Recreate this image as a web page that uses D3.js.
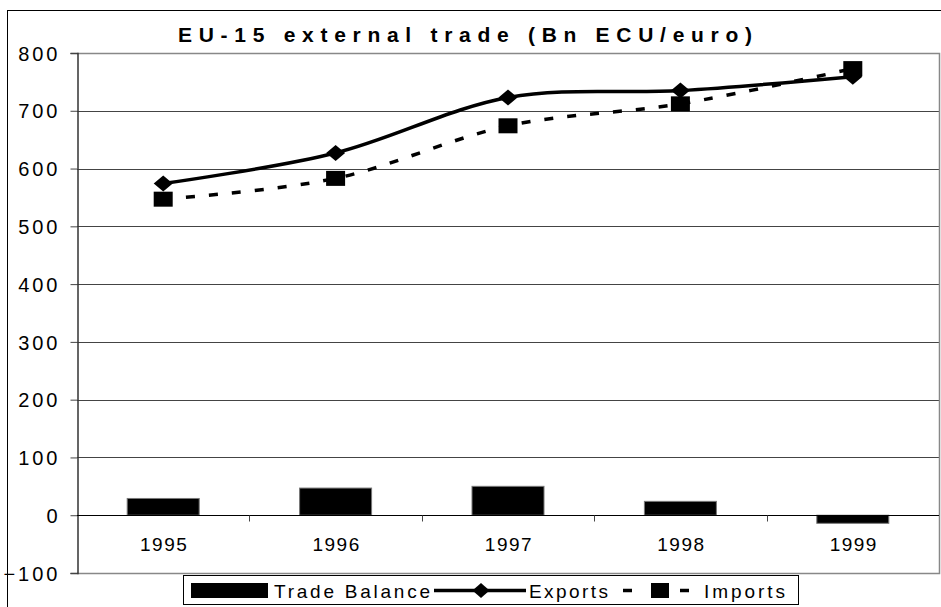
<!DOCTYPE html>
<html>
<head>
<meta charset="utf-8">
<script src="https://cdn.jsdelivr.net/npm/d3@7"></script>
<style>
  body { margin: 0; background: #fff; }
  svg text { font-family: "Liberation Sans", Arial, sans-serif; fill: #000; }
</style>
</head>
<body>
<svg id="chart" width="941" height="607"></svg>
<script>
// data
const years = ["1995", "1996", "1997", "1998", "1999"];
const tradeBalance = [29, 47, 50, 24, -14];
const exportsBn = [574, 627, 723, 735, 759];
const importsBn = [547, 583, 674, 712, 773];
const yTicks = [-100, 0, 100, 200, 300, 400, 500, 600, 700, 800];

const svg = d3.select("#chart");

// outer chart frame (runs off the right/bottom edge)
svg.append("rect")
    .attr("x", 7.5).attr("y", 10.5)
    .attr("width", 960).attr("height", 620)
    .attr("fill", "none").attr("stroke", "#000");

const plot = {left: 77, right: 939, top: 53, bottom: 573};

const x = d3.scaleBand().domain(years).range([plot.left, plot.right]);
const y = d3.scaleLinear().domain([-100, 800]).range([plot.bottom, plot.top]);

// gridlines
svg.append("g").selectAll("line")
  .data(yTicks.filter(d => d !== -100 && d !== 0 && d !== 800))
  .join("line")
    .attr("x1", plot.left).attr("x2", plot.right)
    .attr("y1", d => Math.round(y(d)) + 0.5).attr("y2", d => Math.round(y(d)) + 0.5)
    .attr("stroke", "#444");

// plot area border (top/right/bottom grey)
svg.append("path")
    .attr("d", `M${plot.left},${plot.top + 0.5}H${plot.right + 0.5}V${plot.bottom + 0.5}H${plot.left}`)
    .attr("fill", "none").attr("stroke", "#888").attr("stroke-width", 1.5);

// y axis
const yAxis = svg.append("g")
    .attr("transform", `translate(${plot.left + 0.5},0)`)
    .call(d3.axisLeft(y).tickValues(yTicks).tickSize(7).tickPadding(10));
yAxis.select(".domain").attr("stroke", "#333").attr("stroke-width", 1.5);
yAxis.selectAll(".tick line").attr("stroke", "#444");
yAxis.selectAll(".tick text")
    .style("font-family", "Liberation Sans, Arial, sans-serif")
    .style("font-size", "20px").style("letter-spacing", "3px")
    .attr("dy", "0.36em");

// bars
const barW = 72;
svg.append("g").selectAll("rect")
  .data(tradeBalance)
  .join("rect")
    .attr("x", (d, i) => x(years[i]) + x.bandwidth() / 2 - barW / 2)
    .attr("y", d => y(Math.max(0, d)))
    .attr("width", barW)
    .attr("height", d => Math.abs(y(d) - y(0)))
    .attr("fill", "#000").attr("stroke", "#777").attr("stroke-width", 1);

// zero line with ticks at band edges
const zeroY = Math.round(y(0)) + 0.5;
svg.append("line")
    .attr("x1", plot.left).attr("x2", plot.right)
    .attr("y1", zeroY).attr("y2", zeroY)
    .attr("stroke", "#000");
svg.append("g").selectAll("line")
  .data(years.slice(1))
  .join("line")
    .attr("x1", d => Math.round(x(d)) + 0.5).attr("x2", d => Math.round(x(d)) + 0.5)
    .attr("y1", zeroY).attr("y2", zeroY + 6)
    .attr("stroke", "#444");
svg.append("g").selectAll("text")
  .data(years)
  .join("text")
    .attr("x", d => x(d) + x.bandwidth() / 2 + 1)
    .attr("y", 551)
    .attr("text-anchor", "middle")
    .style("font-size", "19px").style("letter-spacing", "1.5px")
    .text(d => d);

// lines
const cx = i => x(years[i]) + x.bandwidth() / 2;
const line = d3.line()
    .x((d, i) => cx(i))
    .y(d => y(d))
    .curve(d3.curveCardinal.tension(0));

svg.append("path")
    .attr("d", line(exportsBn))
    .attr("fill", "none").attr("stroke", "#000").attr("stroke-width", 3.5);
svg.append("path")
    .attr("d", line(importsBn))
    .attr("fill", "none").attr("stroke", "#000").attr("stroke-width", 3.5)
    .attr("stroke-dasharray", "9,14");

// markers
const diamond = (w, h) => `M0,${-h / 2}L${w / 2},0L0,${h / 2}L${-w / 2},0Z`;
svg.append("g").selectAll("path")
  .data(exportsBn)
  .join("path")
    .attr("transform", (d, i) => `translate(${cx(i)},${y(d)})`)
    .attr("d", diamond(19, 16))
    .attr("fill", "#000");
svg.append("g").selectAll("rect")
  .data(importsBn)
  .join("rect")
    .attr("x", (d, i) => cx(i) - 9.5)
    .attr("y", d => y(d) - 7.5)
    .attr("width", 19).attr("height", 15)
    .attr("fill", "#000");

// title
svg.append("text")
    .attr("x", 178).attr("y", 42)
    .attr("textLength", 574).attr("lengthAdjust", "spacing")
    .style("font-size", "21px").style("font-weight", "bold")
    .text("EU-15 external trade (Bn ECU/euro)");

// legend
const lg = svg.append("g");
const legendText = (x0, w, s) => lg.append("text")
    .attr("x", x0).attr("y", 598)
    .attr("textLength", w).attr("lengthAdjust", "spacing")
    .style("font-size", "19px").text(s);
lg.append("rect")
    .attr("x", 183.5).attr("y", 575.5).attr("width", 615).attr("height", 29)
    .attr("fill", "#fff").attr("stroke", "#000");
lg.append("rect").attr("x", 191).attr("y", 583).attr("width", 77).attr("height", 15).attr("fill", "#000");
legendText(274, 156, "Trade Balance");
lg.append("line").attr("x1", 434).attr("x2", 526).attr("y1", 590.5).attr("y2", 590.5)
    .attr("stroke", "#000").attr("stroke-width", 3.5);
lg.append("path").attr("transform", "translate(481,590.5)").attr("d", diamond(17, 15)).attr("fill", "#000");
legendText(529, 79, "Exports");
lg.append("line").attr("x1", 623).attr("x2", 632).attr("y1", 590.5).attr("y2", 590.5)
    .attr("stroke", "#000").attr("stroke-width", 3.5);
lg.append("rect").attr("x", 651).attr("y", 583).attr("width", 18).attr("height", 15).attr("fill", "#000");
lg.append("line").attr("x1", 680).attr("x2", 689).attr("y1", 590.5).attr("y2", 590.5)
    .attr("stroke", "#000").attr("stroke-width", 3.5);
legendText(704, 81, "Imports");
</script>
</body>
</html>
